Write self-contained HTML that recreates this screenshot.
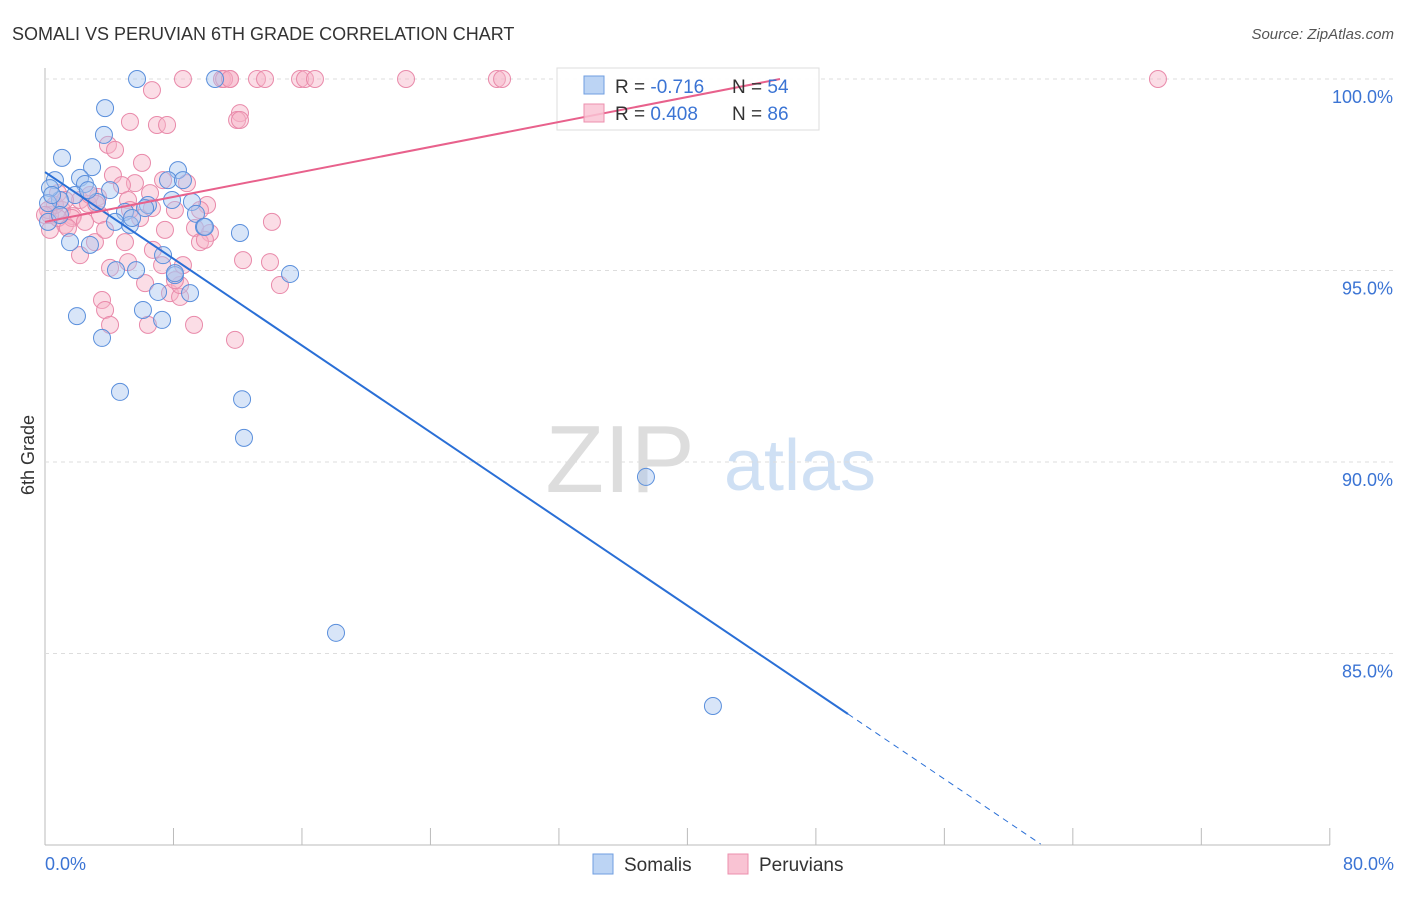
<!DOCTYPE html>
<html><head><meta charset="utf-8"><style>
body{margin:0;background:#fff;font-family:"Liberation Sans",sans-serif}
svg text{font-family:"Liberation Sans",sans-serif}
</style></head><body>
<svg id="c" width="1406" height="892" xmlns="http://www.w3.org/2000/svg">
<text x="12" y="40" font-size="18" fill="#333">SOMALI VS PERUVIAN 6TH GRADE CORRELATION CHART</text>
<text x="1394" y="39" font-size="15" fill="#555" font-style="italic" text-anchor="end">Source: ZipAtlas.com</text>
<text x="34" y="455" font-size="18" fill="#333" transform="rotate(-90 34 455)" text-anchor="middle">6th Grade</text>
<text x="620" y="492" font-size="96" fill="#ddd" font-family="Liberation Serif" text-anchor="middle">ZIP</text>
<text x="800" y="490" font-size="72" fill="#cfe0f4" text-anchor="middle">atlas</text>
<g id="grid"></g><g id="pts"></g>
<rect x="557" y="68" width="262" height="62" fill="#fff" fill-opacity="0.9" stroke="#ddd"/>
<g id="lines"></g>
<g>
<rect x="584" y="76" width="20" height="18" fill="#bcd4f4" stroke="#6f9ee0"/>
<rect x="584" y="104" width="20" height="18" fill="#f9c3d3" fill-opacity="0.85" stroke="#ec8fae"/>
<text x="615" y="93" font-size="19" fill="#333">R = <tspan fill="#3b74d4">-0.716</tspan></text>
<text x="732" y="93" font-size="19" fill="#333">N = <tspan fill="#3b74d4">54</tspan></text>
<text x="615" y="120" font-size="19" fill="#333">R = <tspan fill="#3b74d4"> 0.408</tspan></text>
<text x="732" y="120" font-size="19" fill="#333">N = <tspan fill="#3b74d4">86</tspan></text>
</g>
<g>
<rect x="593" y="854" width="20" height="20" fill="#bcd4f4" stroke="#6f9ee0"/>
<text x="624" y="871" font-size="19" fill="#333">Somalis</text>
<rect x="728" y="854" width="20" height="20" fill="#f9c3d3" stroke="#ec8fae"/>
<text x="759" y="871" font-size="19" fill="#333">Peruvians</text>
</g>
</svg>
<script>
const xTicks=[0,8,16,24,32,40,48,56,64,72,80];
const yTicks=[100,95,90,85];
const yTickLabels=["100.0%","95.0%","90.0%","85.0%"];
const xEndLabels=["0.0%","80.0%"];
const somaliX=[5.73,10.59,3.74,3.67,1.06,2.93,0.62,2.18,2.49,4.05,1.87,3.24,0.93,0.31,8.28,7.66,8.59,6.41,7.91,9.15,9.4,4.98,4.36,5.29,0.19,1.56,2.8,7.35,4.42,5.67,8.09,7.04,9.03,9.9,12.14,15.26,6.1,7.29,1.99,3.55,4.67,12.27,12.39,37.42,18.12,41.59,0.19,0.93,5.42,0.44,6.23,8.09,9.96,2.68];
const somaliY=[100,100,99.24,98.54,97.94,97.7,97.36,97.42,97.26,97.1,96.97,96.79,96.84,97.15,97.62,97.36,97.36,96.71,96.84,96.79,96.48,96.53,96.27,96.19,96.27,95.74,95.67,95.4,95.01,95.01,94.88,94.44,94.41,96.14,95.98,94.91,93.97,93.71,93.81,93.24,91.83,91.64,90.63,89.61,85.54,83.63,96.76,96.45,96.37,96.97,96.63,94.93,96.14,97.1];
const peruX=[8.59,11.02,11.52,13.2,13.7,15.88,16.19,16.81,22.48,28.14,28.46,69.3,6.66,11.15,12.14,11.96,5.29,6.97,7.6,3.92,4.36,6.04,5.6,4.23,4.79,7.35,8.84,6.54,3.3,2.18,1.06,1.74,2.68,3.42,5.17,5.92,8.09,10.09,14.13,7.47,9.34,10.27,4.98,3.11,2.18,6.72,8.59,9.65,12.33,14.01,7.29,4.05,5.17,14.63,6.23,7.78,3.55,3.74,4.05,6.41,8.41,9.28,11.83,0.31,0.62,0.19,1.25,1.68,0.81,0.31,2.8,3.18,3.74,0.81,1.43,9.65,9.96,12.14,6.66,8.41,8.09,11.52,2.49,1.25,5.29,0];
const peruY=[100,100,100,100,100,100,100,100,100,100,100,100,99.71,100,99.11,98.93,98.88,98.8,98.8,98.28,98.15,97.81,97.28,97.49,97.23,97.36,97.28,97.02,96.92,96.84,96.58,96.42,96.74,96.45,96.84,96.37,96.58,96.71,96.27,96.06,96.11,95.98,95.74,95.74,95.4,95.54,95.14,95.74,95.27,95.22,95.14,95.07,95.22,94.62,94.67,94.41,94.23,93.97,93.58,93.58,94.31,93.58,93.19,96.45,96.71,96.58,96.19,96.37,97.02,96.06,96.97,96.74,96.06,96.37,96.11,96.58,95.8,98.93,96.63,94.62,94.75,100,96.27,96.84,96.58,96.45];
const blueTrend=[97.57,-0.283];
const pinkTrend=[96.27,0.0815];
const NS="http://www.w3.org/2000/svg";
const xs=v=>45+v*16.06, ys=v=>79+(100-v)*38.3;
function mk(t,a,p){const e=document.createElementNS(NS,t);for(const k in a)e.setAttribute(k,a[k]);p.appendChild(e);return e;}
const g=document.getElementById('grid');
let ax=mk('line',{x1:45,y1:68,x2:45,y2:845,stroke:'#bbb'},g);


let bx=mk('line',{x1:45,y1:845,x2:1330,y2:845,stroke:'#bbb'},g);


yTicks.forEach((v,i)=>{
 let l=mk('line',{x1:45,y1:ys(v),x2:1394,y2:ys(v),stroke:'#ddd','stroke-dasharray':'4,4'},g);
 
 
 let t=mk('text',{x:1393,y:ys(v)+24,'font-size':18,fill:'#3b74d4','text-anchor':'end'},g);t.textContent=yTickLabels[i];
 
 
});
xTicks.forEach(v=>{
 let l=mk('line',{x1:xs(v),y1:828,x2:xs(v),y2:845,stroke:'#bbb'},g);
 
 
});
let t0=mk('text',{x:45,y:870,'font-size':18,fill:'#3b74d4'},g);t0.textContent=xEndLabels[0];


let t1=mk('text',{x:1394,y:870,'font-size':18,fill:'#3b74d4','text-anchor':'end'},g);t1.textContent=xEndLabels[1];


const p=document.getElementById('pts');
peruX.forEach((x,i)=>{let c=mk('circle',{cx:xs(x),cy:ys(peruY[i]),r:8.5,fill:'#f6b3c8','fill-opacity':0.45,stroke:'#e98aaa','stroke-width':1},p);
 
 });
somaliX.forEach((x,i)=>{let c=mk('circle',{cx:xs(x),cy:ys(somaliY[i]),r:8.5,fill:'#a9c6ef','fill-opacity':0.45,stroke:'#5a8fdc','stroke-width':1},p);
 
 });
const L=document.getElementById('lines');
const bf=x=>blueTrend[0]+blueTrend[1]*x, pf=x=>pinkTrend[0]+pinkTrend[1]*x;
let bl=mk('line',{x1:xs(0),y1:ys(bf(0)),x2:xs(50),y2:ys(bf(50)),stroke:'#2a6fd6','stroke-width':2},L);


const xe=62;
let bd=mk('line',{x1:xs(50),y1:ys(bf(50)),x2:xs(xe),y2:ys(bf(xe)),stroke:'#2a6fd6','stroke-width':1,'stroke-dasharray':'6,5'},L);


const pe=(100-pinkTrend[0])/pinkTrend[1];
let pl=mk('line',{x1:xs(0),y1:ys(pf(0)),x2:xs(pe),y2:ys(pf(pe)),stroke:'#e8618c','stroke-width':2},L);


</script>
</body></html>
